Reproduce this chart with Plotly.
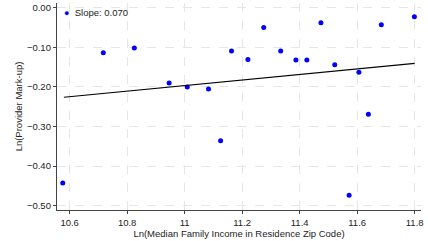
import plotly.graph_objects as go

income_ln = [10.576, 10.717, 10.825, 10.946, 11.009, 11.083, 11.125, 11.163, 11.220,
             11.275, 11.334, 11.387, 11.425, 11.474, 11.522, 11.572, 11.606, 11.639,
             11.684, 11.799]
markup_ln = [-0.443, -0.114, -0.102, -0.190, -0.200, -0.205, -0.336, -0.109, -0.131,
             -0.050, -0.109, -0.132, -0.132, -0.038, -0.144, -0.474, -0.163, -0.269,
             -0.043, -0.023]
fit_x = [10.58, 11.80]
fit_y = [-0.226, -0.1405]
slope_label = "Slope: 0.070"

x_ticks = [10.6, 10.8, 11.0, 11.2, 11.4, 11.6, 11.8]
y_ticks = [0.0, -0.1, -0.2, -0.3, -0.4, -0.5]

font_family = "Liberation Sans, Arial, sans-serif"

fig = go.Figure()
fig.add_trace(go.Scatter(
    x=income_ln, y=markup_ln, mode="markers", name=slope_label,
    marker=dict(color="#0000ff", size=5), showlegend=False,
))
fig.add_trace(go.Scatter(
    x=fit_x, y=fit_y, mode="lines", showlegend=False,
    line=dict(color="black", width=1.1),
))

axis_common = dict(
    showgrid=True, gridcolor="#e6e6e6", griddash="dash", gridwidth=1,
    showline=True, linecolor="#444444", linewidth=1.3,
    ticks="outside", ticklen=3, tickcolor="#444444", tickwidth=1,
    zeroline=False, tickfont=dict(size=9.5, color="#222222", family=font_family),
)

fig.update_layout(
    width=428, height=241,
    margin=dict(l=57, r=7, t=3, b=31),
    paper_bgcolor="white", plot_bgcolor="white",
    font=dict(family=font_family, size=9.5, color="#222222"),
    xaxis=dict(
        range=[10.556, 11.822], tickvals=x_ticks,
        ticktext=["10.6", "10.8", "11", "11.2", "11.4", "11.6", "11.8"],
        title=dict(text="Ln(Median Family Income in Residence Zip Code)",
                   font=dict(size=9.5), standoff=1),
        automargin=False,
        **axis_common,
    ),
    yaxis=dict(
        range=[-0.511, 0.012], tickvals=y_ticks, tickformat=".2f",
        title=dict(text="Ln(Provider Mark-up)", font=dict(size=9.5), standoff=2),
        automargin=False,
        **axis_common,
    ),
    showlegend=False,
    annotations=[dict(
        xref="paper", yref="paper", x=0.013, y=0.955, xanchor="left", yanchor="middle",
        text="<span style='color:#0000ff;font-size:9px'>●</span>  " + slope_label,
        showarrow=False, font=dict(size=9.5, color="#222222"),
    )],
)

fig.write_html("out.html",
               config={"displayModeBar": False},
               post_script="document.body.style.margin='0';document.body.style.padding='0';")
